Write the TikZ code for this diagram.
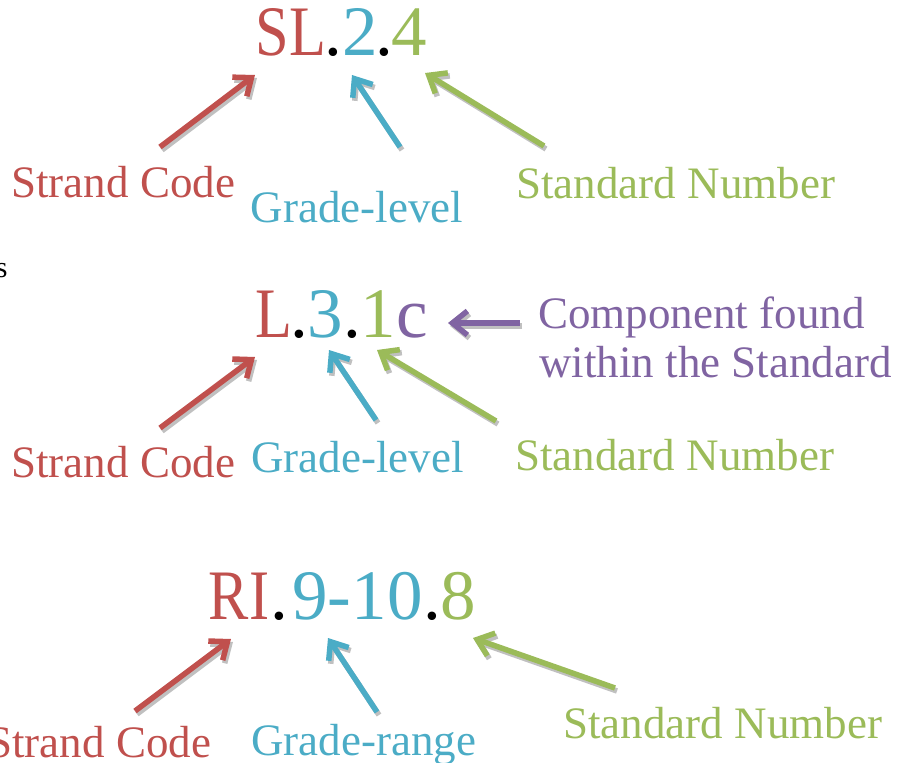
\documentclass[tikz,border=0pt]{standalone}
\usepackage{fontspec}
\setmainfont{Liberation Serif}
\newfontfamily\codeletters[FakeStretch=0.85]{Liberation Serif}
\usetikzlibrary{arrows.meta,positioning}

\definecolor{strandred}{RGB}{192,80,77}
\definecolor{gradeblue}{RGB}{75,172,198}
\definecolor{stdgreen}{RGB}{155,187,89}
\definecolor{comppurple}{RGB}{128,100,162}
\definecolor{shadowgray}{RGB}{192,192,192}

\tikzset{every picture/.style={line width=0.75pt},
	codepart/.style={font=\fontsize{71}{80}\selectfont, inner sep=0pt, anchor=base},
	letters/.style={font=\codeletters\fontsize{71}{80}\selectfont},
	tag/.style={font=\fontsize{45}{52}\selectfont, inner sep=0pt, anchor=base west},
	arrowline/.style={line width=5.5pt, -{Straight Barb[length=15pt,width=24pt]}}
}

% arrow with its grey shadow: colour, tail node, tail shift, tip node, tip shift
\newcommand{\codearrow}[5]{%
	\draw[arrowline, shadowgray] ([shift={#3}, shift={(2,3)}]#2) -- ([shift={#5}, shift={(2,3)}]#4);
	\draw[arrowline, #1] ([shift={#3}]#2) -- ([shift={#5}]#4);
}

\begin{document}
\begin{tikzpicture}[x=1pt,y=1pt,yscale=-1,xscale=1]
	\useasboundingbox (0,0) rectangle (906,763);
	
	%Code: SL.2.4
	\node[codepart, letters, strandred] (sl1) at (291,55) {SL};
	\node[codepart] (dotA1) at (333.5,55) {.};
	\node[codepart, gradeblue] (two1) at (360,55) {2};
	\node[codepart] (dotB1) at (384,55) {.};
	\node[codepart, stdgreen] (four1) at (409,55) {4};
	
	\node[tag, strandred] (strand1) at (11,197) {Strand Code};
	\node[tag, gradeblue] (grade1) at (250.5,222) {Grade-level};
	\node[tag, stdgreen] (std1) at (516,198) {Standard Number};
	
	\codearrow{strandred}{strand1.base west}{(149,-50)}{sl1.base}{(-36,20)}
	\codearrow{gradeblue}{grade1.base west}{(149.5,-75)}{two1.base}{(-8,20)}
	\codearrow{stdgreen}{std1.base west}{(28,-52)}{four1.base}{(16,18)}
	
	%cut-off text at the left edge
	\node[font=\fontsize{30}{36}\selectfont, inner sep=0pt, anchor=base west] (cut) at (-4.5,277) {s};
	
	%Code: L.3.1c
	\node[codepart, letters, strandred] (l2) at (274,337) {L};
	\node[codepart] (dotA2) at (299,337) {.};
	\node[codepart, gradeblue] (three2) at (325,337) {3};
	\node[codepart] (dotB2) at (352.5,337) {.};
	\node[codepart, stdgreen] (one2) at (378.5,337) {1};
	\node[codepart, comppurple] (c2) at (412.5,337) {c};
	
	\node[tag, comppurple] (comp) at (538,328) {Component found};
	\node[tag, comppurple] (within) at (539,377) {within the Standard};
	\node[tag, strandred] (strand2) at (11,477) {Strand Code};
	\node[tag, gradeblue] (grade2) at (251,472) {Grade-level};
	\node[tag, stdgreen] (std2) at (515,470) {Standard Number};
	
	\codearrow{comppurple}{comp.base west}{(-18,-5)}{c2.base}{(35.5,-14)}
	\codearrow{strandred}{strand2.base west}{(149,-49)}{l2.base}{(-19,20)}
	\codearrow{gradeblue}{grade2.base west}{(125,-52)}{three2.base}{(4,13)}
	\codearrow{stdgreen}{std2.base west}{(-19,-49)}{one2.base}{(-1.5,13)}
	
	%Code: RI.9-10.8
	\node[codepart, letters, strandred] (ri3) at (239,619) {RI};
	\node[codepart] (dotA3) at (279,619) {.};
	\node[codepart, gradeblue] (range3) at (357.5,619) {9-10};
	\node[codepart] (dotB3) at (432.5,619) {.};
	\node[codepart, stdgreen] (eight3) at (458.5,619) {8};
	
	\node[tag, strandred] (strand3) at (-13,757) {Strand Code};
	\node[tag, gradeblue] (grade3) at (251,755) {Grade-range};
	\node[tag, stdgreen] (std3) at (563,738) {Standard Number};
	
	\codearrow{strandred}{strand3.base west}{(148,-46)}{ri3.base}{(-8,20)}
	\codearrow{gradeblue}{grade3.base west}{(126,-43)}{range3.base}{(-29.5,19)}
	\codearrow{stdgreen}{std3.base west}{(52,-50)}{eight3.base}{(14.5,19)}
	
\end{tikzpicture}
\end{document}
